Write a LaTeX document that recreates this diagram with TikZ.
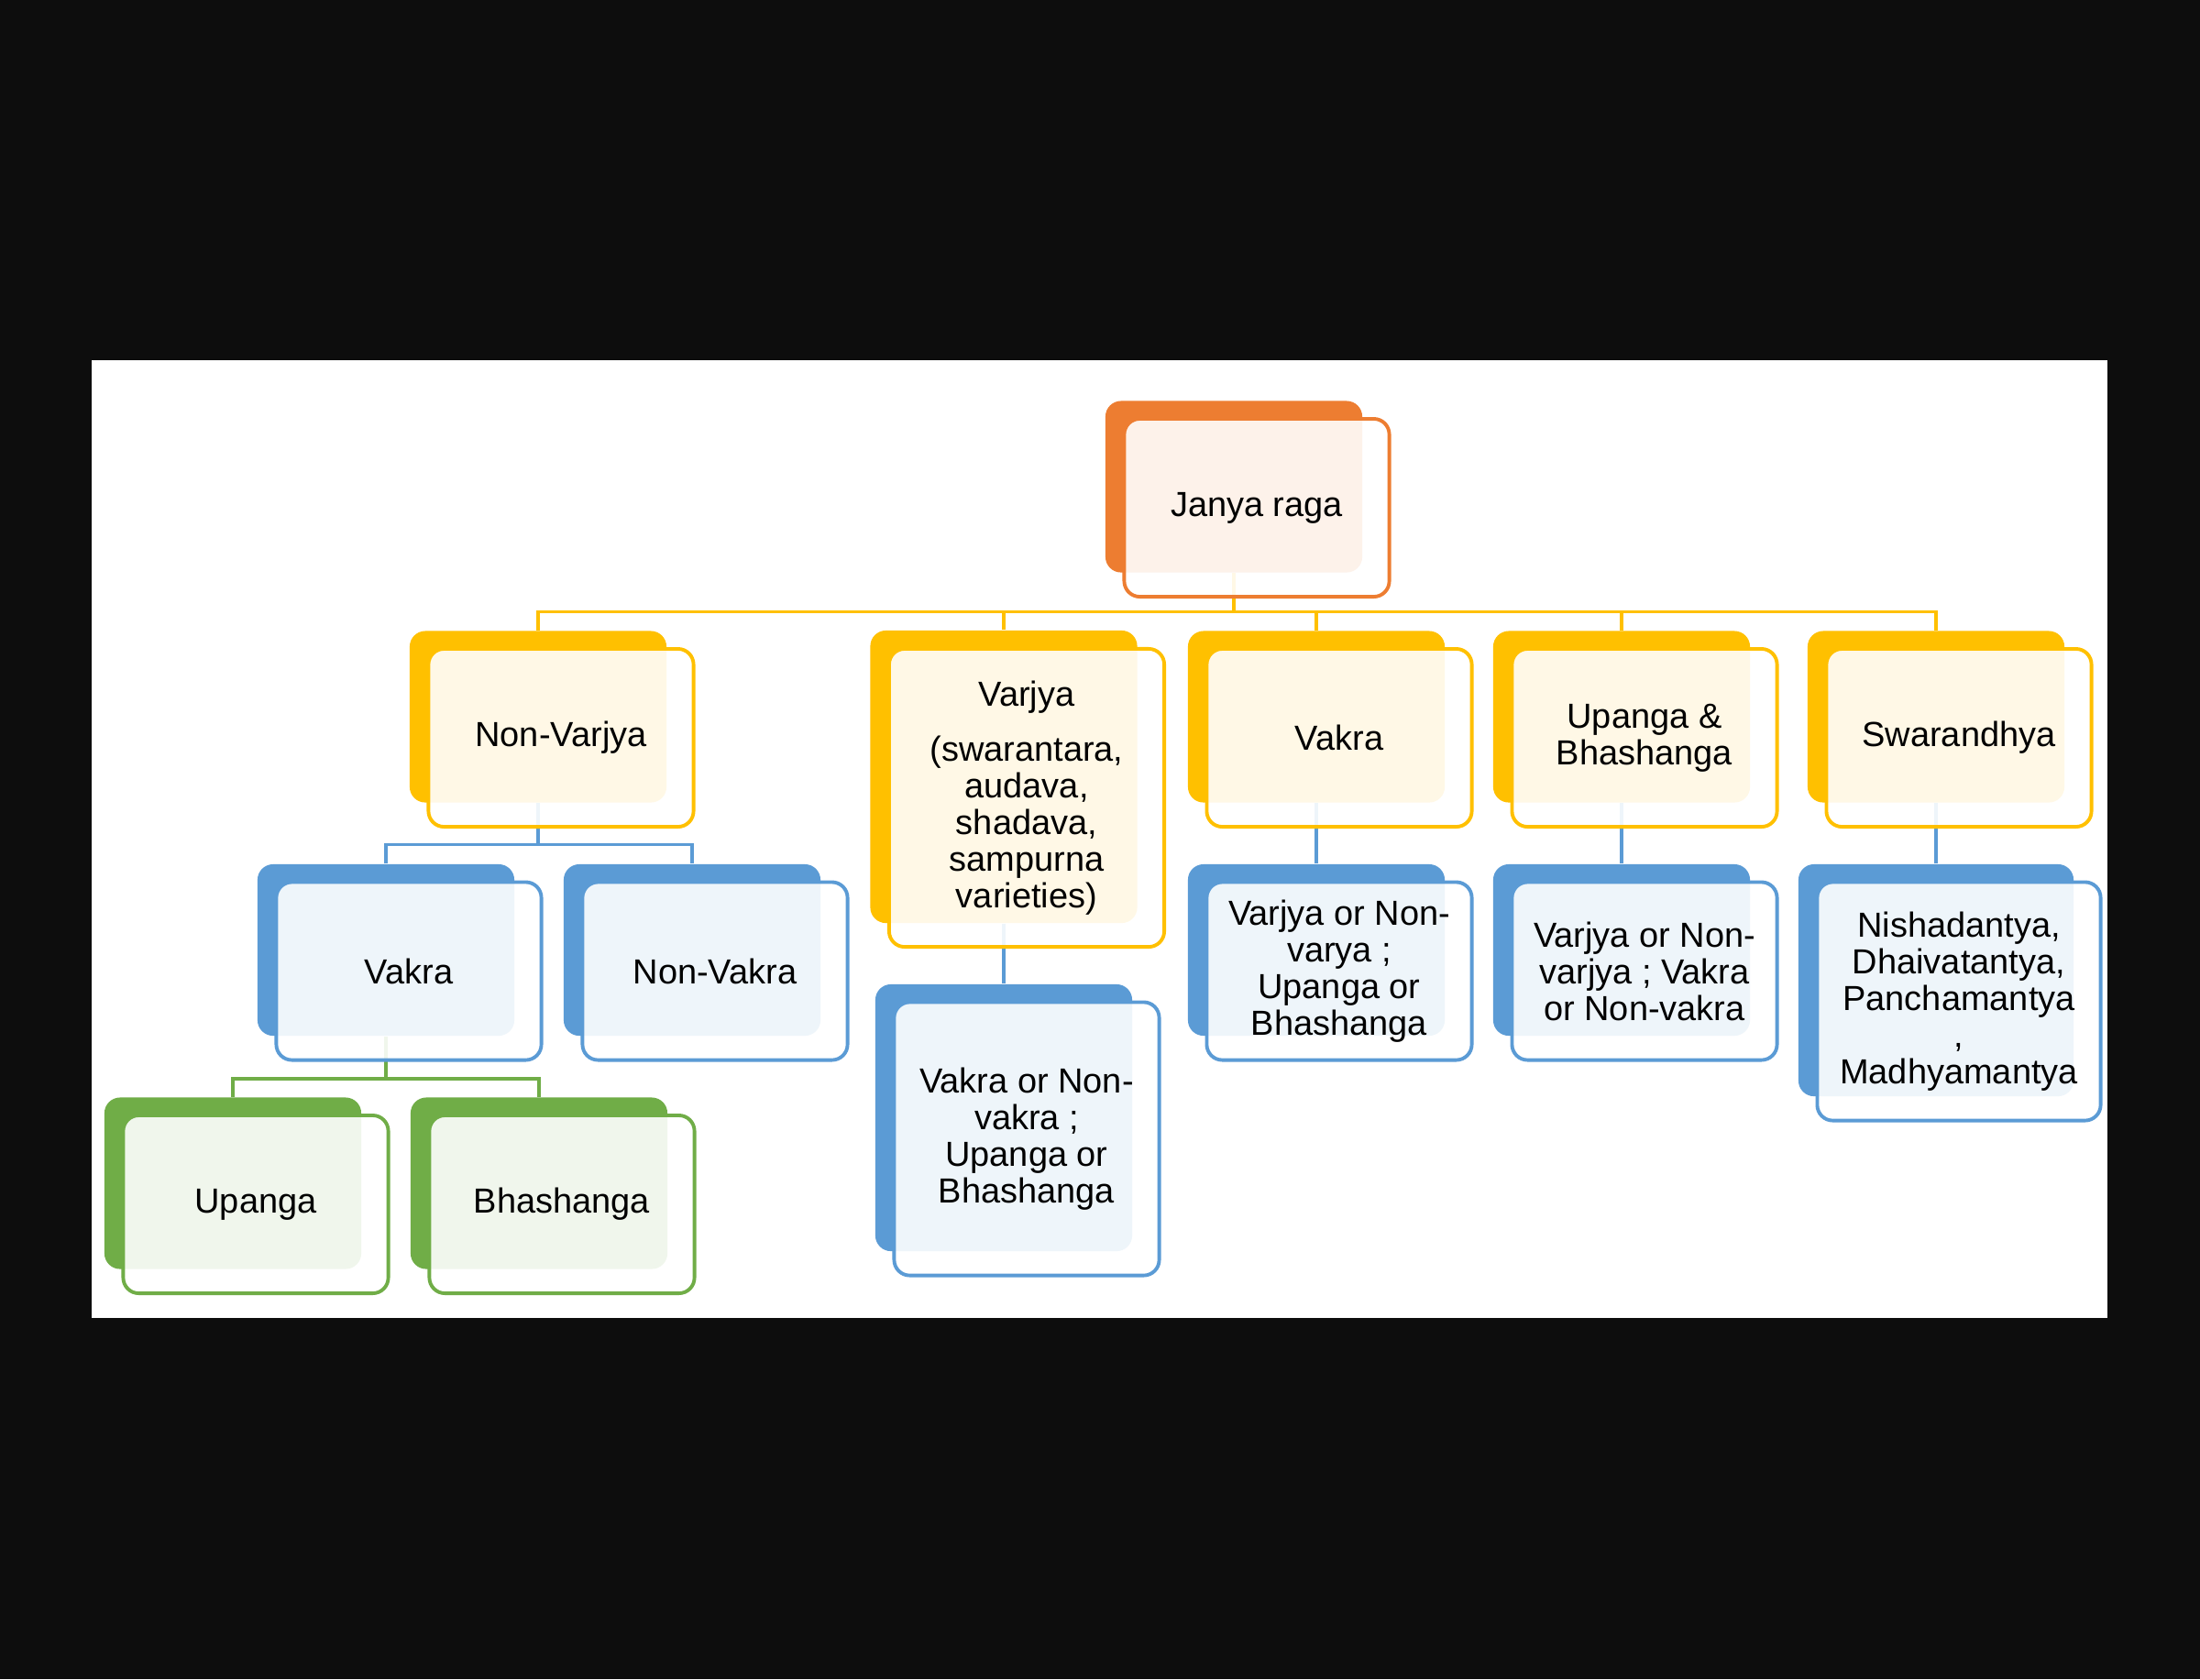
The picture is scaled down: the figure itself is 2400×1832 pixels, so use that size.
\documentclass[tikz,border=0pt]{standalone}
\usepackage{fontspec}
\setmainfont{Liberation Sans}
\usepackage{xcolor}
\usepackage{tikz}

\definecolor{ragaorange}{HTML}{ED7D31}
\definecolor{ragagold}{HTML}{FFC000}
\definecolor{ragablue}{HTML}{5B9BD5}
\definecolor{ragagreen}{HTML}{70AD47}
\definecolor{screenblack}{HTML}{0D0D0D}

\begin{document}
\begin{tikzpicture}[x=0.01cm,y=-0.01cm,
  back node/.style={fill=#1,rounded corners=0.17cm,inner sep=0pt,
    minimum width=2.8cm,minimum height=1.87cm},
  front node/.style={draw=#1,line width=1.1pt,fill=white,fill opacity=0.9,
    text opacity=1,rounded corners=0.17cm,inner sep=0pt,align=center,
    minimum width=2.89cm,minimum height=1.94cm,
    font=\fontsize{10.8}{11.4}\selectfont},
  link/.style={draw=#1,line width=1pt}]

\fill[screenblack] (0,0) rectangle (2400,1832);
\fill[white] (100,393) rectangle (2299,1438);

% back boxes
\node[back node=ragaorange] (janya) at (1346,531) {};
\node[back node=ragagold] (nonvarjya) at (587,782) {};
\node[back node=ragagold,minimum width=2.91cm,minimum height=3.19cm] (varjya) at (1095,847.5) {};
\node[back node=ragagold] (vakra) at (1436,782) {};
\node[back node=ragagold] (upabha) at (1769,782) {};
\node[back node=ragagold] (swar) at (2112,782) {};
\node[back node=ragablue] (vakrab) at (421,1036.5) {};
\node[back node=ragablue] (nonvakra) at (755,1036.5) {};
\node[back node=ragablue,minimum height=2.91cm] (varjyasub) at (1095,1219.5) {};
\node[back node=ragablue] (vakrasub) at (1436,1036.5) {};
\node[back node=ragablue] (upabhasub) at (1769,1036.5) {};
\node[back node=ragablue,minimum width=3cm,minimum height=2.53cm] (swarsub) at (2112,1069.5) {};
\node[back node=ragagreen] (upanga) at (254,1291) {};
\node[back node=ragagreen] (bhashanga) at (588,1291) {};

% connectors
\draw[link=ragagold] (janya.south) -- ++(0,42) -| (nonvarjya.north);
\draw[link=ragagold] (janya.south) -- ++(0,42) -| (varjya.north);
\draw[link=ragagold] (janya.south) -- ++(0,42) -| (vakra.north);
\draw[link=ragagold] (janya.south) -- ++(0,42) -| (upabha.north);
\draw[link=ragagold] (janya.south) -- ++(0,42) -| (swar.north);
\draw[link=ragablue] (nonvarjya.south) -- ++(0,45) -| (vakrab.north);
\draw[link=ragablue] (nonvarjya.south) -- ++(0,45) -| (nonvakra.north);
\draw[link=ragablue] (varjya.south) -- (varjyasub.north);
\draw[link=ragablue] (vakra.south) -- (vakrasub.north);
\draw[link=ragablue] (upabha.south) -- (upabhasub.north);
\draw[link=ragablue] (swar.south) -- (swarsub.north);
\draw[link=ragagreen] (vakrab.south) -- ++(0,46) -| (upanga.north);
\draw[link=ragagreen] (vakrab.south) -- ++(0,46) -| (bhashanga.north);

% front boxes with text
\node[front node=ragaorange] (janya-t) at ([shift={(25,23)}]janya) {Janya raga};
\node[front node=ragagold] (nonvarjya-t) at ([shift={(25,23)}]nonvarjya) {Non-Varjya};
\node[front node=ragagold,minimum width=3cm,minimum height=3.25cm] (varjya-t) at ([shift={(25,23)}]varjya)
  {Varjya\\[5.6pt](swarantara,\\audava,\\shadava,\\sampurna\\varieties)};
\node[front node=ragagold] (vakra-t) at ([shift={(25,23)}]vakra) {Vakra};
\node[front node=ragagold] (upabha-t) at ([shift={(25,23)}]upabha) {Upanga \&\\Bhashanga};
\node[front node=ragagold] (swar-t) at ([shift={(25,23)}]swar) {Swarandhya};
\node[front node=ragablue] (vakrab-t) at ([shift={(25,23)}]vakrab) {Vakra};
\node[front node=ragablue] (nonvakra-t) at ([shift={(25,23)}]nonvakra) {Non-Vakra};
\node[front node=ragablue,minimum height=2.98cm] (varjyasub-t) at ([shift={(25,23)}]varjyasub)
  {Vakra or Non-\\vakra ;\\Upanga or\\Bhashanga};
\node[front node=ragablue] (vakrasub-t) at ([shift={(25,23)}]vakrasub)
  {Varjya or Non-\\varya ;\\Upanga or\\Bhashanga};
\node[front node=ragablue] (upabhasub-t) at ([shift={(25,23)}]upabhasub)
  {Varjya or Non-\\varjya ; Vakra\\or Non-vakra};
\node[front node=ragablue,minimum width=3.09cm,minimum height=2.6cm] (swarsub-t) at ([shift={(25,23)}]swarsub)
  {Nishadantya,\\Dhaivatantya,\\Panchamantya\\,\\Madhyamantya};
\node[front node=ragagreen] (upanga-t) at ([shift={(25,23)}]upanga) {Upanga};
\node[front node=ragagreen] (bhashanga-t) at ([shift={(25,23)}]bhashanga) {Bhashanga};

\end{tikzpicture}
\end{document}
